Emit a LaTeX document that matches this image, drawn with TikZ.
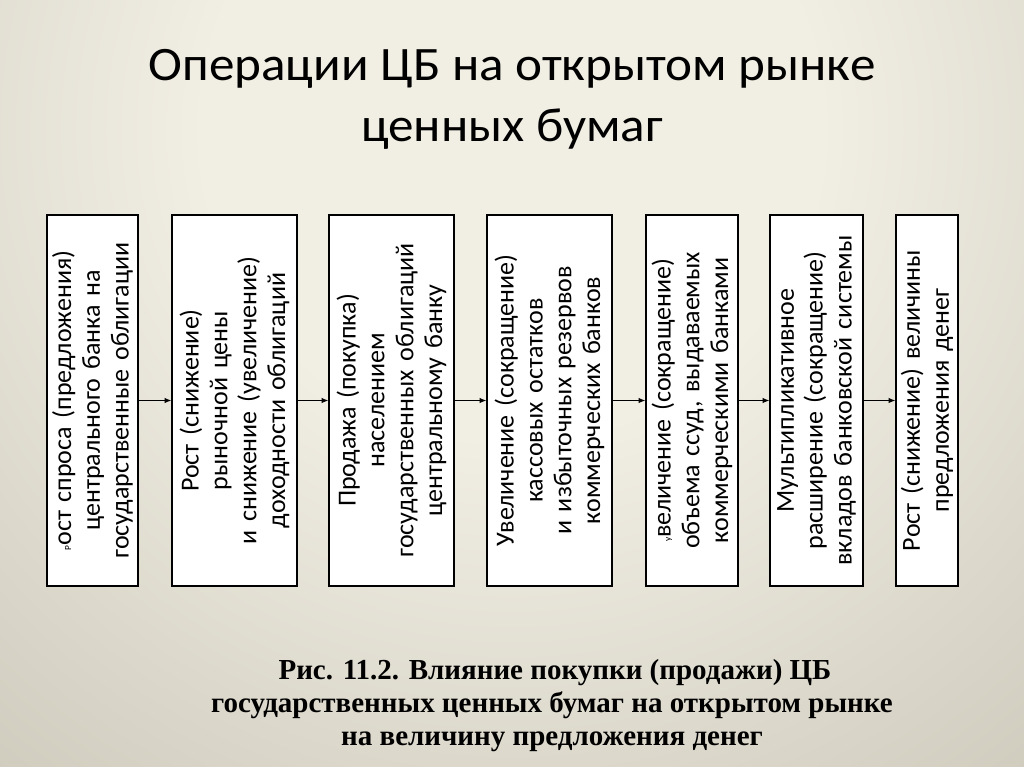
\documentclass[tikz,border=0pt]{standalone}
\usepackage{fontspec}
\setmainfont[WordSpace=0.85]{Carlito}
\newfontfamily\titlefont[FakeStretch=1.065]{Carlito}
\newfontfamily\capfont{Liberation Serif}
\usetikzlibrary{arrows.meta}
\definecolor{bgA}{HTML}{F1EEE4}
\definecolor{bgB}{HTML}{CFCBBD}
\definecolor{bgC}{HTML}{8B877A}
\pgfdeclareradialshading{bgshade}{\pgfpoint{0bp}{0bp}}{color(0bp)=(bgA); color(7bp)=(bgA); color(19bp)=(bgB); color(33bp)=(bgC); color(50bp)=(bgC)}
\tikzset{
  boxst/.style={draw=black, fill=white, line width=0.9pt, rotate=90,
    minimum width=278.25pt, inner sep=0pt, text width=270pt, align=center,
    font=\fontsize{19.5pt}{21.6pt}\selectfont},
  arr/.style={line width=0.8pt, -{Latex[length=5pt,width=4pt]}},
  titlest/.style={anchor=base, inner sep=0pt, font=\titlefont\fontsize{36pt}{40pt}\selectfont},
  capst/.style={anchor=base, inner sep=0pt, font=\capfont\bfseries\fontsize{21.75pt}{25pt}\selectfont}
}
\begin{document}
\begin{tikzpicture}[x=0.75pt,y=-0.75pt]
\useasboundingbox (0,0) rectangle (1024,767);
\begin{scope}
\clip (0,0) rectangle (1024,767);
\shade[shading=bgshade] (512,130) circle (1100);
\end{scope}
\node[titlest] (t1) at (512,80) {Операции ЦБ на открытом рынке};
\node[titlest] (t2) at (512,141) {ценных бумаг};

\node[boxst, minimum height=68.25pt] (b1) at (92.5,400.5)
  {{\fontsize{7pt}{7pt}\selectfont Р}ост спроса (предложения)\\центрального банка на\\государственные облигации};
\node[boxst, minimum height=93.75pt] (b2) at (234.5,400.5)
  {Рост (снижение)\\рыночной цены\\и снижение (увеличение)\\доходности облигаций};
\node[boxst, minimum height=93.75pt] (b3) at (391.5,400.5)
  {Продажа (покупка)\\населением\\государственных облигаций\\центральному банку};
\node[boxst, minimum height=93.75pt] (b4) at (549.5,400.5)
  {Увеличение (сокращение)\\кассовых остатков\\и избыточных резервов\\коммерческих банков};
\node[boxst, minimum height=69pt] (b5) at (692,400.5)
  {{\fontsize{7pt}{7pt}\selectfont у}величение (сокращение)\\объема ссуд, выдаваемых\\коммерческими банками};
\node[boxst, minimum height=69.75pt] (b6) at (816.5,400.5)
  {Мультипликативное\\расширение (сокращение)\\вкладов банковской системы};
\node[boxst, minimum height=46.5pt] (b7) at (927,400.5)
  {Рост (снижение) величины\\предложения денег};

\draw[arr] (b1.south) -- (b2.north);
\draw[arr] (b2.south) -- (b3.north);
\draw[arr] (b3.south) -- (b4.north);
\draw[arr] (b4.south) -- (b5.north);
\draw[arr] (b5.south) -- (b6.north);
\draw[arr] (b6.south) -- (b7.north);

\node[capst] (c1) at (555,679) {Рис. 11.2. Влияние покупки (продажи) ЦБ};
\node[capst] (c2) at (552,712) {государственных ценных бумаг на открытом рынке};
\node[capst] (c3) at (552,745) {на величину предложения денег};
\end{tikzpicture}
\end{document}
